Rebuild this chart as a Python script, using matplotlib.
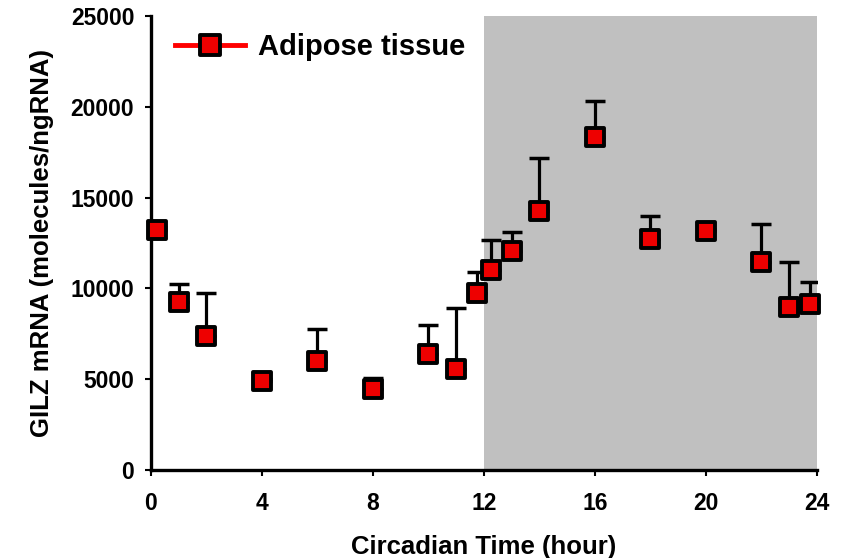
import matplotlib
matplotlib.use('Agg')
import matplotlib.pyplot as plt
from matplotlib.lines import Line2D
from matplotlib.markers import MarkerStyle

plt.rcParams['font.family'] = 'Liberation Sans'
plt.rcParams['font.weight'] = 'bold'

# circadian time (hour), mean GILZ mRNA and upper error
hours = [0.2, 1, 2, 4, 6, 8, 10, 11, 11.75, 12.25, 13, 14, 16, 18, 20, 22, 23, 23.75]
gilz = [13230, 9260, 7400, 4900, 6030, 4450, 6380, 5550, 9740, 11030, 12070, 14280,
        18340, 12720, 13140, 11480, 8950, 9140]
err_up = [150, 980, 2340, 120, 1750, 610, 1610, 3360, 1190, 1650, 1010, 2900,
          1960, 1280, 150, 2080, 2530, 1240]

sq = MarkerStyle('s', joinstyle='round')

fig = plt.figure(figsize=(8.42, 5.58), dpi=100)
ax = fig.add_axes([0.1793, 0.1577, 0.791, 0.8136])

# dark phase
ax.axvspan(12, 24, color='#c0c0c0', lw=0, zorder=0)

ax.errorbar(hours, gilz, yerr=[[0] * len(err_up), err_up], fmt='none',
            ecolor='black', elinewidth=2.3, capsize=7.5, capthick=2.5, zorder=2)
ax.plot(hours, gilz, ls='none', marker=sq, ms=12.5, mfc='#ee0000', mec='black',
        mew=2.8, zorder=3, clip_on=False)

ax.set_xlim(0, 24)
ax.set_ylim(0, 25000)
ax.set_xticks([0, 4, 8, 12, 16, 20, 24])
ax.set_yticks([0, 5000, 10000, 15000, 20000, 25000])
ax.tick_params(labelsize=16.5, width=1.5, length=4)
ax.tick_params(axis='x', pad=12)
ax.tick_params(axis='y', pad=8)
for side in ['top', 'right']:
    ax.spines[side].set_visible(False)
for side in ['left', 'bottom']:
    ax.spines[side].set_linewidth(2.4)

ax.set_xlabel('Circadian Time (hour)', fontsize=18.5, fontweight='bold', labelpad=14)
ax.set_ylabel('GILZ mRNA (molecules/ngRNA)', fontsize=18.5, fontweight='bold', labelpad=12)

handle = Line2D([], [], color='red', lw=3.5, marker=sq, ms=14, mfc='#ee0000',
                mec='black', mew=2.8)
ax.legend([handle], ['Adipose tissue'], loc='upper left', frameon=False,
          prop={'size': 21, 'weight': 'bold'}, handlelength=2.4, handletextpad=0.45,
          bbox_to_anchor=(-0.004, 1.02), borderaxespad=0.5)

fig.savefig('out.png', dpi=100)
